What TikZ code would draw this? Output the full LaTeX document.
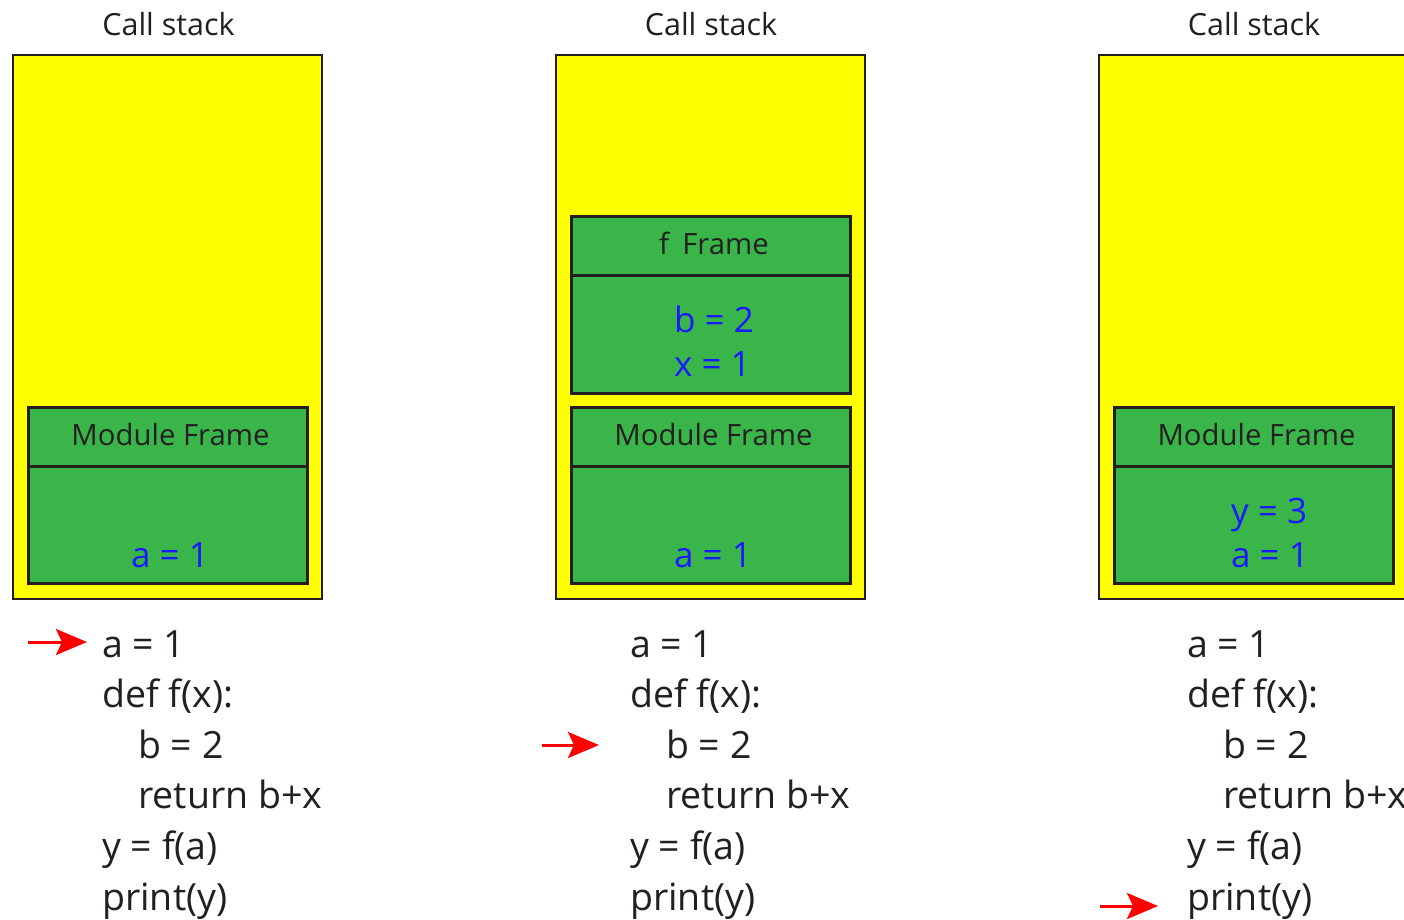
\documentclass[tikz,border=0pt]{standalone}
\usepackage{fontspec}
\setmainfont{Open Sans}
\usetikzlibrary{arrows.meta}

\definecolor{ink}{HTML}{231F20}
\definecolor{stackyellow}{HTML}{FFFF00}
\definecolor{framegreen}{HTML}{39B54A}
\definecolor{varblue}{HTML}{1A1AFF}
\definecolor{ptrred}{HTML}{FF0000}

\tikzset{
  stackbox/.style={draw=ink, line width=2.8pt, fill=stackyellow, anchor=north west,
    inner sep=0pt, outer sep=0pt},
  framepart/.style={draw=ink, line width=3pt, fill=framegreen, anchor=north west,
    inner sep=0pt, outer sep=0pt, minimum width=279pt},
  titletext/.style={text=ink, inner sep=0pt, anchor=base, font=\fontsize{30.5}{36}\selectfont},
  headtext/.style={text=ink, inner sep=0pt, anchor=base, font=\fontsize{29.3}{35}\selectfont},
  vartext/.style={text=varblue, inner sep=0pt, anchor=base west, font=\fontsize{35}{40}\selectfont},
  codetext/.style={text=ink, inner sep=0pt, anchor=base west, font=\fontsize{37.5}{43}\selectfont},
  ptr/.style={draw=ptrred, line width=3pt, -{Stealth[length=31pt, width=26pt, inset=6pt]}},
}

\begin{document}
\begin{tikzpicture}[x=1pt, y=-1pt]
\useasboundingbox (0,0) rectangle (1404,919);

% ---------- stack 1: module frame only ----------
\node[titletext] (t1) at (168.5,35) {Call stack};
\node[stackbox, minimum width=309pt, minimum height=544pt] (s1) at (13,55) {};
\node[framepart, minimum height=117pt] (m1b) at (28,466) {};
\node[framepart, minimum height=59pt] (m1h) at (28,407) {};
\node[headtext] (m1t) at (170.5,445) {Module Frame};
\node[vartext] (m1a) at (131,567) {a = 1};

% ---------- stack 2: f frame on top of module frame ----------
\node[titletext] (t2) at (711,35) {Call stack};
\node[stackbox, minimum width=309pt, minimum height=544pt] (s2) at (556,55) {};
\node[framepart, minimum height=118pt] (f2b) at (571,275) {};
\node[framepart, minimum height=59pt] (f2h) at (571,216) {};
\node[headtext] (f2t) at (714,254) {f\hspace{0.45em}Frame};
\node[vartext] (f2b1) at (674,332) {b = 2};
\node[vartext] (f2x1) at (674,376) {x = 1};
\node[framepart, minimum height=117pt] (m2b) at (571,466) {};
\node[framepart, minimum height=59pt] (m2h) at (571,407) {};
\node[headtext] (m2t) at (713.5,445) {Module Frame};
\node[vartext] (m2a) at (674,567) {a = 1};

% ---------- stack 3: back to the module frame ----------
\node[titletext] (t3) at (1254,35) {Call stack};
\node[stackbox, minimum width=312pt, minimum height=544pt] (s3) at (1099,55) {};
\node[framepart, minimum height=117pt] (m3b) at (1114,466) {};
\node[framepart, minimum height=59pt] (m3h) at (1114,407) {};
\node[headtext] (m3t) at (1256.5,445) {Module Frame};
\node[vartext] (m3y) at (1231,523) {y = 3};
\node[vartext] (m3a) at (1231,567) {a = 1};

% ---------- source listings ----------
\foreach \c/\x in {1/102, 2/630, 3/1187} {
  \node[codetext] (c\c l1) at (\x,657)        {a = 1};
  \node[codetext] (c\c l2) at (\x,707.6)      {def f(x):};
  \node[codetext] (c\c l3) at (\x+36,758.2)   {b = 2};
  \node[codetext] (c\c l4) at (\x+36,808.8)   {return b+x};
  \node[codetext] (c\c l5) at (\x,859.4)      {y = f(a)};
  \node[codetext] (c\c l6) at (\x,910)        {print(y)};
}

% ---------- current-line pointers ----------
\coordinate (p1) at (28,642);
\coordinate (p2) at (542,745);
\coordinate (p3) at (1100,906);
\draw[ptr] (p1) -- ([xshift=-15pt]c1l1.west |- p1);
\draw[ptr] (p2) -- ([xshift=-67pt]c2l3.west |- p2);
\draw[ptr] (p3) -- ([xshift=-29pt]c3l6.west |- p3);
\end{tikzpicture}
\end{document}
